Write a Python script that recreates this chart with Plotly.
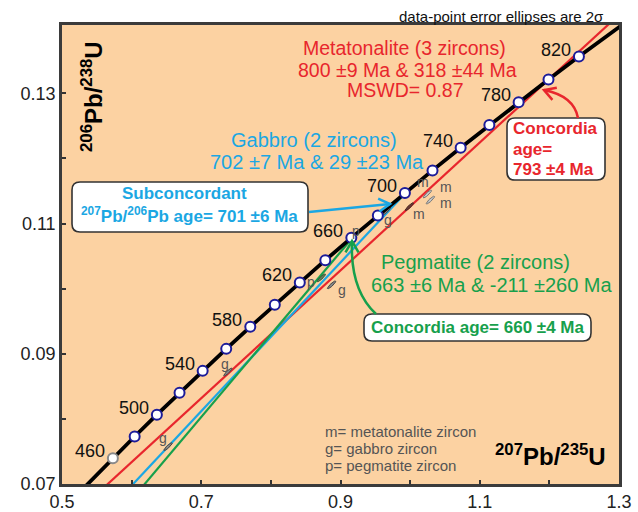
import numpy as np
import plotly.graph_objects as go

# Decay constants (per Ma)
LAMBDA_238 = 1.55125e-4
LAMBDA_235 = 9.8485e-4

# Concordia age marks (Ma)
tick_ages = [460, 480, 500, 520, 540, 560, 580, 600, 620, 640,
             660, 680, 700, 720, 740, 760, 780, 800, 820]
labelled_ages = [460, 500, 540, 580, 620, 660, 700, 740, 780, 820]
curve_ages = [420, 440] + tick_ages + [840, 860]

# Discordia intercepts (Ma): upper, lower
meta_ages = [800, 318]
gabbro_ages = [702, 29]
pegm_ages = [663, -211]

# Zircon analyses: 207Pb/235U, 206Pb/238U, 2-sigma errors, error correlation
meta_x = [1.0248, 1.0291, 0.9990]
meta_y = [0.11454, 0.11361, 0.11260]
gab_x = [0.9660, 0.8872, 0.7383, 0.6523]
gab_y = [0.11191, 0.10059, 0.08720, 0.07574]
peg_x = [0.9155, 0.8725]
peg_y = [0.10788, 0.10167]
err_x = 0.0060
err_y = 0.00060
err_rho = 0.90

# Axis setup
x_range = [0.5, 1.3]
y_range = [0.07, 0.1405]
x_major = [0.5, 0.7, 0.9, 1.1, 1.3]
x_minor = [0.6, 0.8, 1.0, 1.2]
y_major = [0.07, 0.09, 0.11, 0.13]
y_minor = [0.08, 0.10, 0.12]

RED = "#E8262D"
BLUE = "#1BA7E3"
GREEN = "#17A04C"
NAVY = "#1C1C9A"
GREY_TXT = "#555555"
FONT = "Liberation Sans, Arial, sans-serif"

W, H = 638, 512
ML, MR, MT, MB = 62, 19, 25, 28
PW, PH = W - ML - MR, H - MT - MB


def conc(t):
    t = np.asarray(t, float)
    return np.expm1(LAMBDA_235 * t), np.expm1(LAMBDA_238 * t)


def X(xp):
    return (xp - ML) / PW


def Y(yp):
    return 1 - (yp - MT) / PH


def ellipse(cx, cy, sx, sy, rho, n=40):
    th = np.linspace(0, 2 * np.pi, n)
    ex = cx + sx * np.cos(th)
    ey = cy + sy * (rho * np.cos(th) + np.sqrt(1 - rho ** 2) * np.sin(th))
    return ex, ey


fig = go.Figure()

# Discordia chords
def chord(ages, color, extend=1.0):
    (xu, xl), (yu, yl) = conc(ages)
    xs = [xl, xl + extend * (xu - xl)]
    ys = [yl, yl + extend * (yu - yl)]
    fig.add_trace(go.Scatter(x=xs, y=ys, mode="lines",
                             line=dict(color=color, width=2.2),
                             hoverinfo="skip"))

chord(meta_ages, RED, extend=1.25)
chord(gabbro_ages, BLUE)
chord(pegm_ages, GREEN)

# Error ellipses
def add_ellipses(xs, ys, fill, edge):
    for cx, cy in zip(xs, ys):
        ex, ey = ellipse(cx, cy, err_x, err_y, err_rho)
        fig.add_trace(go.Scatter(x=ex, y=ey, mode="lines", fill="toself",
                                 fillcolor=fill, line=dict(color=edge, width=1),
                                 hoverinfo="skip"))

add_ellipses(meta_x[:2], meta_y[:2], "#C8C8C8", "#777777")
add_ellipses(meta_x[2:], meta_y[2:], "#6B3A34", "#4A2A26")
add_ellipses(gab_x, gab_y, "#8A8A8A", "#444444")
add_ellipses(peg_x, peg_y, "#5E7F5E", "#335533")

# Concordia curve
cx, cy = conc(curve_ages)
fig.add_trace(go.Scatter(x=cx, y=cy, mode="lines",
                         line=dict(color="black", width=3.8), hoverinfo="skip"))

mx, my = conc(tick_ages)
edge_cols = ["#8A8A8A"] + [NAVY] * (len(tick_ages) - 1)
fig.add_trace(go.Scatter(x=mx, y=my, mode="markers",
                         marker=dict(symbol="circle", size=10, color="white",
                                     line=dict(color=edge_cols, width=2)),
                         hoverinfo="skip"))

# Age labels on the concordia
lx, ly = conc(labelled_ages)
for a, xv, yv in zip(labelled_ages, lx, ly):
    fig.add_annotation(x=xv, y=yv, text=str(a), showarrow=False,
                       xshift=-23, yshift=7,
                       font=dict(size=18, color="#111111"))

# Sample letters next to ellipses (pixel offsets)
def letters(xs, ys, ch, offs):
    for xv, yv, (dx, dy) in zip(xs, ys, offs):
        fig.add_annotation(x=xv, y=yv, text=ch, showarrow=False,
                           xshift=dx, yshift=dy,
                           font=dict(size=14, color=GREY_TXT))

letters(meta_x, meta_y, "m", [(-4, 12), (16, 13), (10, -7)])
letters([meta_x[1]], [meta_y[1]], "m", [(16, -3)])
letters(gab_x, gab_y, "g", [(2, -9), (10, -5), (-3, 8), (-5, 9)])
letters(peg_x, peg_y, "p", [(5, 6), (-10, -4)])

# Boxes with rounded corners (pixel geometry -> paper coords)
def rounded_box(x0, y0, x1, y1, r=8):
    p = (f"M {X(x0 + r)},{Y(y0)} L {X(x1 - r)},{Y(y0)} "
         f"Q {X(x1)},{Y(y0)} {X(x1)},{Y(y0 + r)} L {X(x1)},{Y(y1 - r)} "
         f"Q {X(x1)},{Y(y1)} {X(x1 - r)},{Y(y1)} L {X(x0 + r)},{Y(y1)} "
         f"Q {X(x0)},{Y(y1)} {X(x0)},{Y(y1 - r)} L {X(x0)},{Y(y0 + r)} "
         f"Q {X(x0)},{Y(y0)} {X(x0 + r)},{Y(y0)} Z")
    fig.add_shape(type="path", path=p, xref="paper", yref="paper",
                  fillcolor="white", line=dict(color="#333333", width=1.6),
                  layer="above")

rounded_box(72, 182, 308, 232)
rounded_box(507, 118, 605, 180)
rounded_box(364, 314, 591, 341)

# Pointers: a stroke (straight or curved) ending in an open V head
def pointer(pts, color, head_from, width=2.5, wing=13):
    (x0, y0) = pts[0]
    if len(pts) == 3:
        (qx, qy), (x1, y1) = pts[1], pts[2]
        p = f"M {X(x0)},{Y(y0)} Q {X(qx)},{Y(qy)} {X(x1)},{Y(y1)}"
    else:
        (x1, y1) = pts[1]
        p = f"M {X(x0)},{Y(y0)} L {X(x1)},{Y(y1)}"
    fig.add_shape(type="path", path=p, xref="paper", yref="paper",
                  line=dict(color=color, width=width), layer="above")
    tx, ty = pts[-1]
    dx, dy = tx - head_from[0], ty - head_from[1]
    n = np.hypot(dx, dy)
    dx, dy = dx / n, dy / n
    wings = []
    for s in (1, -1):
        a = np.radians(30) * s
        rx = dx * np.cos(a) - dy * np.sin(a)
        ry = dx * np.sin(a) + dy * np.cos(a)
        wings.append((tx - wing * rx, ty - wing * ry))
    p = (f"M {X(wings[0][0])},{Y(wings[0][1])} L {X(tx)},{Y(ty)} "
         f"L {X(wings[1][0])},{Y(wings[1][1])}")
    fig.add_shape(type="path", path=p, xref="paper", yref="paper",
                  line=dict(color=color, width=width), layer="above")

pointer([(578, 118), (574, 96), (544, 90)], RED, head_from=(558, 95))
pointer([(376, 314), (350, 290), (352, 241)], GREEN, head_from=(352, 256))
pointer([(309, 212), (390, 204)], BLUE, head_from=(309, 212))

# Text
def text(xp, yp, s, size, color, bold=False, xanchor="center", angle=0):
    fig.add_annotation(x=X(xp), y=Y(yp), xref="paper", yref="paper",
                       text=f"<b>{s}</b>" if bold else s, showarrow=False,
                       font=dict(size=size, color=color), xanchor=xanchor,
                       yanchor="middle", textangle=angle, borderpad=0)

text(404, 48, "Metatonalite (3 zircons)", 19.5, RED)
text(407, 70, "800 ±9 Ma &amp; 318 ±44 Ma", 19.5, RED)
text(405, 90, "MSWD= 0.87", 19.5, RED)

text(314, 140, "Gabbro (2 zircons)", 20, BLUE)
text(317, 162, "702 ±7 Ma &amp; 29 ±23 Ma", 20, BLUE)

text(475, 262, "Pegmatite (2 zircons)", 20, GREEN)
text(491, 285, "663 ±6 Ma &amp; -211 ±260 Ma", 20, GREEN)

text(184, 194, "Subconcordant", 17, BLUE, bold=True)
text(189, 215, "<sup>207</sup>Pb/<sup>206</sup>Pb age= 701 ±6 Ma", 17, BLUE, bold=True)

text(512, 128, "Concordia", 17, RED, bold=True, xanchor="left")
text(512, 149, "age=", 17, RED, bold=True, xanchor="left")
text(512, 169, "793 ±4 Ma", 17, RED, bold=True, xanchor="left")

text(477, 327, "Concordia age= 660 ±4 Ma", 17, GREEN, bold=True)

text(324, 431, "m= metatonalite zircon", 15, GREY_TXT, xanchor="left")
text(324, 448, "g= gabbro zircon", 15, GREY_TXT, xanchor="left")
text(324, 465, "p= pegmatite zircon", 15, GREY_TXT, xanchor="left")

text(605, 17, "data-point error ellipses are 2σ", 15, "#111111", xanchor="right")

text(550, 455, "<sup>207</sup>Pb/<sup>235</sup>U", 24, "black", bold=True)
text(92, 97, "<sup>206</sup>Pb/<sup>238</sup>U", 24, "black", bold=True, angle=-90)

fig.update_layout(
    width=W, height=H,
    margin=dict(l=ML, r=MR, t=MT, b=MB, autoexpand=False),
    paper_bgcolor="white", plot_bgcolor="#FCD2A2",
    showlegend=False,
    font=dict(family=FONT, color="#1a1a1a"),
)
axis_common = dict(showgrid=False, zeroline=False, showline=True, mirror=True,
                   linecolor="#3b3b3b", linewidth=2.5, ticks="inside",
                   ticklen=4, tickwidth=2, tickcolor="#333333",
                   automargin=False,
                   tickfont=dict(size=18, color="#222222"))
fig.update_xaxes(range=x_range, tickvals=x_major,
                 ticktext=[f"{v:.1f}" for v in x_major],
                 minor=dict(tickvals=x_minor, ticks="inside", ticklen=4,
                            tickwidth=2, tickcolor="#333333"),
                 **axis_common)
fig.update_yaxes(range=y_range, tickvals=y_major,
                 ticktext=[f"{v:.2f}" for v in y_major],
                 minor=dict(tickvals=y_minor, ticks="inside", ticklen=4,
                            tickwidth=2, tickcolor="#333333"),
                 **axis_common)

fig.write_html("out.html")
